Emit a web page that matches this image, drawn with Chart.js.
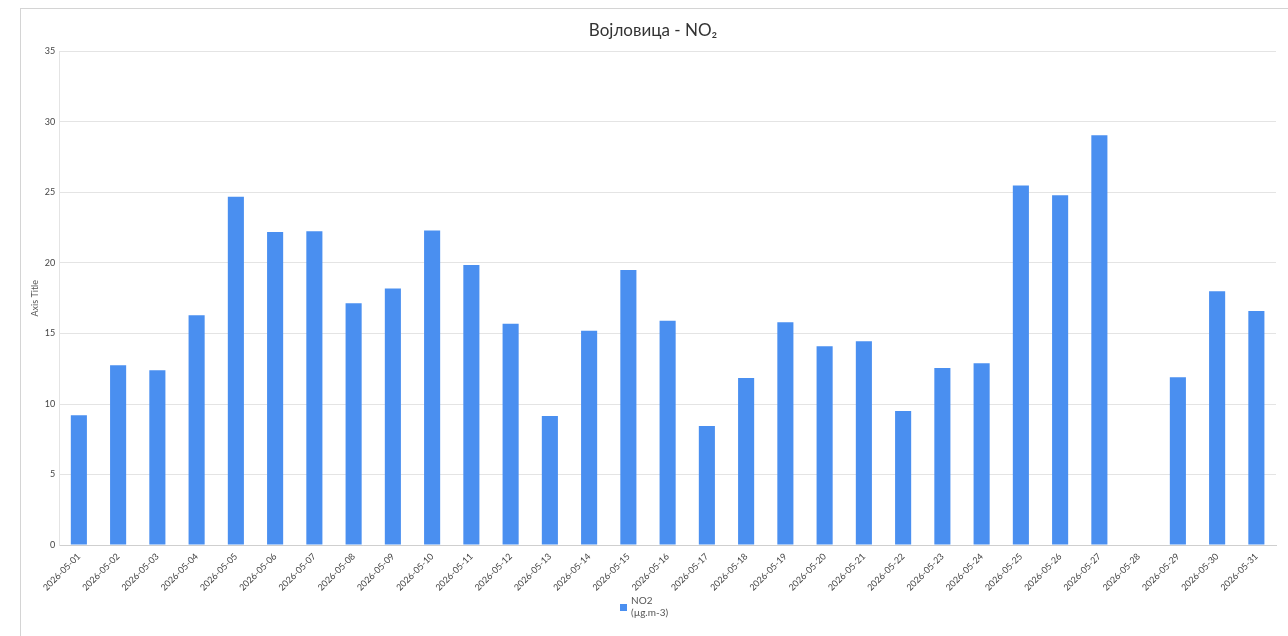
<!DOCTYPE html>
<html lang="sr">
<head>
    <meta charset="UTF-8">
    <title>Војловица - NO2</title>
    <script src="https://cdn.jsdelivr.net/npm/chart.js@4.4.1/dist/chart.umd.min.js"></script>
    <style>
        html, body { margin: 0; padding: 0; background: #fff; }
        #wrap { position: relative; width: 1288px; height: 636px; }
    </style>
</head>
<body>
    <div id="wrap"><canvas id="grafik"></canvas></div>
    <script>
        // dani u mesecu
        const datumi = [
            '2026-05-01', '2026-05-02', '2026-05-03', '2026-05-04', '2026-05-05', '2026-05-06',
            '2026-05-07', '2026-05-08', '2026-05-09', '2026-05-10', '2026-05-11', '2026-05-12',
            '2026-05-13', '2026-05-14', '2026-05-15', '2026-05-16', '2026-05-17', '2026-05-18',
            '2026-05-19', '2026-05-20', '2026-05-21', '2026-05-22', '2026-05-23', '2026-05-24',
            '2026-05-25', '2026-05-26', '2026-05-27', '2026-05-28', '2026-05-29', '2026-05-30',
            '2026-05-31'
        ];
        // NO2 (µg.m-3), 28. nema podatka
        const no2 = [
            9.2, 12.75, 12.4, 16.3, 24.7, 22.2,
            22.25, 17.15, 18.2, 22.3, 19.85, 15.7,
            9.15, 15.2, 19.5, 15.9, 8.45, 11.85,
            15.8, 14.1, 14.45, 9.5, 12.55, 12.9,
            25.5, 24.8, 29.05, null, 11.9, 18.0,
            16.6
        ];
        const naslov = 'Војловица - NO₂';
        const legendaTekst = ['NO2', '(µg.m-3)'];
        const yMax = 35;
        const yKorak = 5;

        const boja = '#4a8ff0';
        const font = 'Lato, "Open Sans", sans-serif';

        // okvir oko celog grafikona
        const okvir = {
            id: 'okvir',
            beforeDraw(chart) {
                const c = chart.ctx;
                c.save();
                c.strokeStyle = '#d4d4d4';
                c.lineWidth = 1;
                c.strokeRect(20.5, 8.5, 1300, 700);
                c.restore();
            }
        };

        // legenda u dva reda, kvadrat izmedju redova
        const legenda = {
            id: 'legenda',
            afterDraw(chart) {
                const c = chart.ctx;
                const cx = chart.width / 2;
                const y = chart.height - 29;
                c.save();
                c.fillStyle = boja;
                c.fillRect(cx - 24, y - 3, 7, 7);
                c.fillStyle = '#555';
                c.font = '10px ' + font;
                c.textBaseline = 'middle';
                c.textAlign = 'left';
                c.fillText(legendaTekst[0], cx - 13, y - 6);
                c.fillText(legendaTekst[1], cx - 13, y + 6);
                c.restore();
            }
        };

        new Chart(document.getElementById('grafik'), {
            type: 'bar',
            data: {
                labels: datumi,
                datasets: [{
                    label: 'NO2',
                    data: no2,
                    backgroundColor: boja,
                    borderWidth: 0,
                    barPercentage: 0.41,
                    categoryPercentage: 1.0
                }]
            },
            options: {
                responsive: true,
                maintainAspectRatio: false,
                animation: false,
                layout: { padding: { left: 30, right: 12, top: 10, bottom: 37 } },
                plugins: {
                    title: {
                        display: true,
                        text: naslov,
                        color: '#333',
                        font: { family: font, size: 17, weight: 'normal' },
                        padding: { top: 10, bottom: 11 }
                    },
                    legend: { display: false },
                    tooltip: { enabled: false }
                },
                scales: {
                    x: {
                        grid: { display: false, drawTicks: false },
                        border: { color: '#cfcfcf' },
                        ticks: {
                            color: '#444',
                            font: { family: font, size: 9 },
                            maxRotation: 45,
                            minRotation: 45,
                            autoSkip: false,
                            padding: 6
                        }
                    },
                    y: {
                        min: 0,
                        max: yMax,
                        ticks: {
                            stepSize: yKorak,
                            color: '#444',
                            font: { family: font, size: 9 },
                            padding: 4
                        },
                        grid: { color: '#e4e4e4', drawTicks: false },
                        border: { display: true, color: '#e4e4e4' },
                        title: {
                            display: true,
                            text: 'Axis Title',
                            color: '#555',
                            font: { family: font, size: 9 },
                            padding: 0
                        }
                    }
                }
            },
            plugins: [okvir, legenda]
        });
    </script>
</body>
</html>
